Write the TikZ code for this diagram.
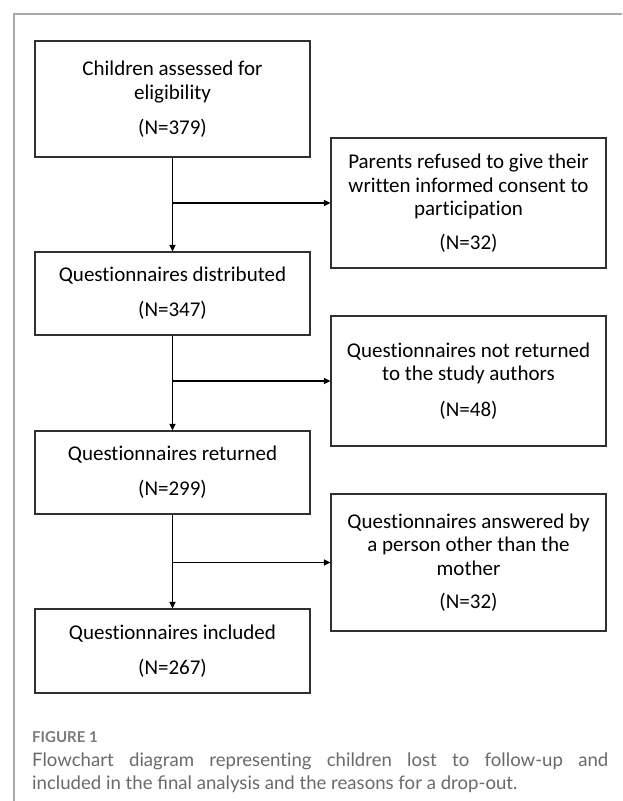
\documentclass[tikz,border=0pt]{standalone}
\usepackage{fontspec}
\usetikzlibrary{arrows.meta}
\newfontfamily\boxfont[Ligatures=CommonOff]{Carlito}
\newfontfamily\capfont[Ligatures=CommonOff]{Lato}
\definecolor{framec}{HTML}{A8A8A8}
\definecolor{capc}{HTML}{6A6A6A}
\definecolor{figc}{HTML}{7A7A7A}
\definecolor{boxc}{HTML}{303030}
\tikzset{
  box/.style={draw=boxc, line width=1.1pt, minimum width=275pt, align=center,
    inner sep=0pt, font=\boxfont\fontsize{21}{23.5}\selectfont, text=black},
  arr/.style={draw=black, line width=1.2pt, -{Triangle[length=6.5pt,width=6pt]}},
  capfig/.style={inner sep=0pt, text=figc, font=\capfont\bfseries\fontsize{15}{17}\selectfont},
  captext/.style={inner sep=0pt, text=capc, font=\capfont\fontsize{18.6}{23}\selectfont}
}
\begin{document}
\begin{tikzpicture}[x=1pt,y=-1pt]
\useasboundingbox (0,0) rectangle (622,801);
\fill[white] (0,0) rectangle (622,801);
\draw[framec, line width=1.5pt] (622,14) -- (14,14) -- (14,801);

\node[box, minimum height=116pt] (b1) at (172.5,99) {Children assessed for\\eligibility\\[11.5pt](N=379)};
\node[box, minimum height=130pt] (r1) at (468.5,203) {Parents refused to give their\\written informed consent to\\participation\\[10pt](N=32)};
\node[box, minimum height=83pt] (b2) at (172.5,293.5) {Questionnaires distributed\\[11.5pt](N=347)};
\node[box, minimum height=130pt] (r2) at (468.5,381) {Questionnaires not returned\\to the study authors\\[12pt](N=48)};
\node[box, minimum height=83pt] (b3) at (172.5,472.5) {Questionnaires returned\\[11.5pt](N=299)};
\node[box, minimum height=137pt] (r3) at (468.5,562.5) {Questionnaires answered by\\a person other than the\\mother\\[10pt](N=32)};
\node[box, minimum height=84pt] (b4) at (172.5,651) {Questionnaires included\\[11pt](N=267)};

\draw[arr] (b1.south) -- (b2.north);
\draw[arr] (b1.south |- r1.west) -- (r1.west);
\draw[arr] (b2.south) -- (b3.north);
\draw[arr] (b2.south |- r2.west) -- (r2.west);
\draw[arr] (b3.south) -- (b4.north);
\draw[arr] (b3.south |- r3.west) -- (r3.west);

\node[capfig, anchor=base west] (fig) at (32,742) {FIGURE 1};
\node[captext, anchor=base west] (cap1) at (32,766) {\makebox[576pt][s]{Flowchart diagram representing children lost to follow-up and}};
\node[captext, anchor=base west] (cap2) at (32,789) {included in the ﬁnal analysis and the reasons for a drop-out.};
\end{tikzpicture}
\end{document}
